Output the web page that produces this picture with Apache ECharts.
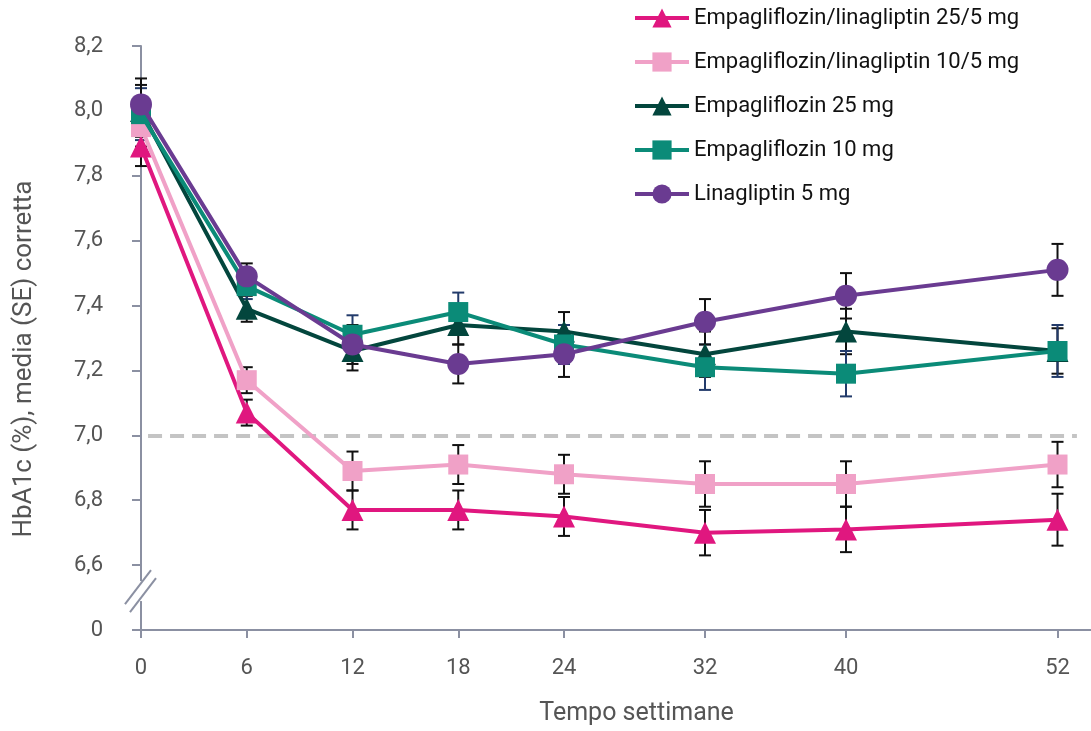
<!DOCTYPE html>
<html>
<head>
<meta charset="utf-8">
<script src="https://cdn.jsdelivr.net/npm/echarts@6/dist/echarts.min.js"></script>
<style>
  html, body { margin: 0; padding: 0; background: #ffffff; }
  #chart { width: 1091px; height: 731px; }
</style>
</head>
<body>
<div id="chart"></div>
<script>
// Weeks of treatment
const weeks = [0, 6, 12, 18, 24, 32, 40, 52];

// Adjusted mean HbA1c (%) per arm
const empaLina25 = [7.89, 7.07, 6.77, 6.77, 6.75, 6.70, 6.71, 6.74];
const empaLina10 = [7.95, 7.17, 6.89, 6.91, 6.88, 6.85, 6.85, 6.91];
const empa25     = [8.00, 7.39, 7.26, 7.34, 7.32, 7.25, 7.32, 7.26];
const empa10     = [7.99, 7.46, 7.31, 7.38, 7.28, 7.21, 7.19, 7.26];
const lina5      = [8.02, 7.49, 7.28, 7.22, 7.25, 7.35, 7.43, 7.51];

// Standard errors per arm
const seEmpaLina25 = [0.06, 0.04, 0.06, 0.06, 0.06, 0.07, 0.07, 0.08];
const seEmpaLina10 = [0.06, 0.04, 0.06, 0.06, 0.06, 0.07, 0.07, 0.07];
const seEmpa25     = [0.08, 0.04, 0.06, 0.06, 0.06, 0.07, 0.07, 0.07];
const seEmpa10     = [0.08, 0.04, 0.06, 0.06, 0.06, 0.07, 0.07, 0.08];
const seLina5      = [0.08, 0.04, 0.06, 0.06, 0.07, 0.07, 0.07, 0.08];

const seriesNames = [
  'Empagliflozin/linagliptin 25/5 mg',
  'Empagliflozin/linagliptin 10/5 mg',
  'Empagliflozin 25 mg',
  'Empagliflozin 10 mg',
  'Linagliptin 5 mg'
];

// Target threshold and the value drawn at the axis break (shown as "0")
const targetValue = 7.0;
const yTickLabels = ['0', '6,6', '6,8', '7,0', '7,2', '7,4', '7,6', '7,8', '8,0', '8,2'];

const xTitle = 'Tempo settimane';
const yTitle = 'HbA1c (%), media (SE) corretta';

const AXIS = '#8b90a2';
const TEXT = '#555555';
const FONT = 'Roboto, sans-serif';

const arms = [
  { name: seriesNames[0], values: empaLina25, se: seEmpaLina25, color: '#e0177f', symbol: 'triangle', size: 22, bar: '#111111' },
  { name: seriesNames[1], values: empaLina10, se: seEmpaLina10, color: '#f0a1c7', symbol: 'rect',     size: 20, bar: '#111111' },
  { name: seriesNames[2], values: empa25,     se: seEmpa25,     color: '#03463d', symbol: 'triangle', size: 22, bar: '#111111' },
  { name: seriesNames[3], values: empa10,     se: seEmpa10,     color: '#0b8b78', symbol: 'rect',     size: 20, bar: '#233b6b' },
  { name: seriesNames[4], values: lina5,      se: seLina5,      color: '#6a3b91', symbol: 'circle',   size: 22, bar: '#111111' }
];

function errorBarSeries(arm) {
  return {
    type: 'custom',
    silent: true,
    z: 1,
    data: weeks.map((w, i) => [w, arm.values[i] - arm.se[i], arm.values[i] + arm.se[i]]),
    renderItem: function (params, api) {
      const lo = api.coord([api.value(0), api.value(1)]);
      const hi = api.coord([api.value(0), api.value(2)]);
      const half = 6;
      const style = { stroke: arm.bar, lineWidth: 2 };
      return {
        type: 'group',
        children: [
          { type: 'line', shape: { x1: lo[0], y1: lo[1], x2: hi[0], y2: hi[1] }, style: style },
          { type: 'line', shape: { x1: lo[0] - half, y1: lo[1], x2: lo[0] + half, y2: lo[1] }, style: style },
          { type: 'line', shape: { x1: hi[0] - half, y1: hi[1], x2: hi[0] + half, y2: hi[1] }, style: style }
        ]
      };
    }
  };
}

function lineSeries(arm, idx) {
  const s = {
    name: arm.name,
    type: 'line',
    z: 2 + idx * 0.01,
    data: weeks.map((w, i) => [w, arm.values[i]]),
    symbol: arm.symbol,
    symbolSize: arm.size,
    showAllSymbol: true,
    color: arm.color,
    lineStyle: { color: arm.color, width: 4 },
    itemStyle: { color: arm.color },
    emphasis: { disabled: true }
  };
  if (idx === 0) {
    s.markLine = {
      silent: true,
      symbol: 'none',
      label: { show: false },
      z: 1,
      lineStyle: { color: '#c4c4c4', width: 4, type: [14, 8] },
      data: [[{ coord: [0.4, targetValue] }, { coord: [53.1, targetValue] }]]
    };
  }
  return s;
}

const chart = echarts.init(document.getElementById('chart'), null, { renderer: 'canvas' });

const option = {
  animation: false,
  backgroundColor: '#ffffff',
  grid: { left: 141, right: 0, top: 46, bottom: 101, containLabel: false },
  legend: {
    orient: 'vertical',
    left: 633,
    top: 6,
    padding: 0,
    itemWidth: 54,
    itemHeight: 24,
    itemGap: 20,
    selectedMode: false,
    data: seriesNames,
    lineStyle: { width: 4 },
    textStyle: { fontFamily: FONT, fontSize: 22, lineHeight: 24, color: '#111111' }
  },
  xAxis: {
    type: 'value',
    min: 0,
    max: 53.9,
    axisLine: { show: true, lineStyle: { color: AXIS, width: 2 } },
    axisTick: { show: true, length: 8, lineStyle: { color: AXIS, width: 2 }, customValues: weeks },
    axisLabel: { customValues: weeks, margin: 27, fontFamily: FONT, fontSize: 22, color: TEXT },
    splitLine: { show: false }
  },
  yAxis: {
    type: 'value',
    min: 6.4,
    max: 8.2,
    interval: 0.2,
    axisLine: { show: true, lineStyle: { color: AXIS, width: 2 } },
    axisTick: { show: true, length: 9, lineStyle: { color: AXIS, width: 2 } },
    axisLabel: {
      margin: 38,
      fontFamily: FONT,
      fontSize: 22,
      color: TEXT,
      formatter: function (v) {
        const i = Math.round((v - 6.4) / 0.2);
        return yTickLabels[i];
      }
    },
    splitLine: { show: false }
  },
  series: arms.map(errorBarSeries).concat(arms.map(lineSeries))
};

chart.setOption(option);

// Axis titles and the break marks on the value axis
const yBreak = chart.convertToPixel({ yAxisIndex: 0 }, 6.52);
const xAxisPx = chart.convertToPixel({ xAxisIndex: 0 }, 0);
const yMidPx = chart.convertToPixel({ yAxisIndex: 0 }, 7.3);
const xMidPx = chart.convertToPixel({ xAxisIndex: 0 }, 28);
const yBottom = chart.convertToPixel({ yAxisIndex: 0 }, 6.4);

chart.setOption({
  graphic: [
    {
      type: 'rect', silent: true, z: 100,
      shape: { x: xAxisPx - 3, y: yBreak - 10, width: 6, height: 20 },
      style: { fill: '#ffffff' }
    },
    {
      type: 'line', silent: true, z: 101,
      shape: { x1: xAxisPx - 16, y1: yBreak + 13, x2: xAxisPx + 10, y2: yBreak - 21 },
      style: { stroke: AXIS, lineWidth: 2 }
    },
    {
      type: 'line', silent: true, z: 101,
      shape: { x1: xAxisPx - 11, y1: yBreak + 21, x2: xAxisPx + 15, y2: yBreak - 13 },
      style: { stroke: AXIS, lineWidth: 2 }
    },
    {
      type: 'text', silent: true, z: 100,
      x: 24, y: yMidPx + 21, rotation: Math.PI / 2,
      style: {
        text: yTitle, fontFamily: FONT, fontSize: 26, fill: TEXT,
        align: 'center', verticalAlign: 'middle'
      }
    },
    {
      type: 'text', silent: true, z: 100,
      x: xMidPx + 2, y: yBottom + 84,
      style: {
        text: xTitle, fontFamily: FONT, fontSize: 25, fill: TEXT,
        align: 'center', verticalAlign: 'middle'
      }
    }
  ]
});
</script>
</body>
</html>
